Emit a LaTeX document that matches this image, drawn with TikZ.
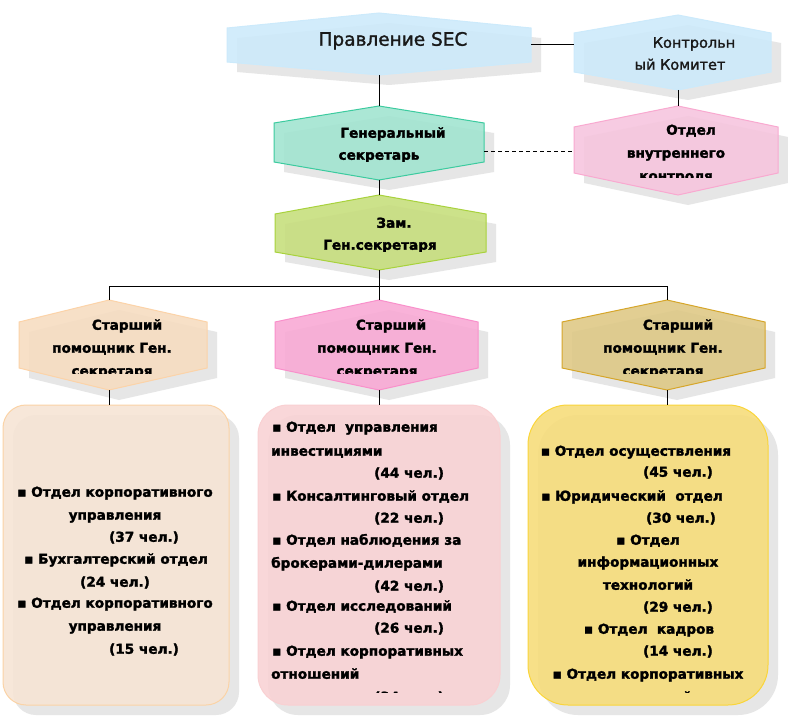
\documentclass[tikz,border=0pt]{standalone}
\usepackage{fontspec}
\setmainfont{DejaVu Sans}[BoldFeatures={FakeBold=2}]
\newfontfamily\semib[FakeBold=1.5]{DejaVu Sans}
\usetikzlibrary{calc}
\definecolor{shgray}{HTML}{E6E6E6}
\definecolor{blueF}{HTML}{CCEAFB}
\definecolor{genF}{HTML}{A0E4D0}
\definecolor{genD}{HTML}{3CCB9F}
\definecolor{otdF}{HTML}{F6C4DE}
\definecolor{otdD}{HTML}{F9A9D0}
\definecolor{zamF}{HTML}{C6DE7A}
\definecolor{zamD}{HTML}{A8D23C}
\definecolor{s1F}{HTML}{F6DCC0}
\definecolor{s1D}{HTML}{FCD3A8}
\definecolor{s2F}{HTML}{F9A8D4}
\definecolor{s2D}{HTML}{F990CB}
\definecolor{s3F}{HTML}{DEC884}
\definecolor{s3D}{HTML}{D6A62A}
\definecolor{b1F}{HTML}{F6E4D4}
\definecolor{b1D}{HTML}{FBD3A6}
\definecolor{b2F}{HTML}{F9D2D4}
\definecolor{b2D}{HTML}{F9D0D2}
\definecolor{b3F}{HTML}{F7DC78}
\definecolor{b3D}{HTML}{FAD53A}
\newcommand{\hexa}[9]{%
  \begin{scope}[shift={(10,10)}]
    \fill[shd] (#3,#7) -- (#5,#6) -- (#4,#7) -- (#4,#8) -- (#5,#9) -- (#3,#8) -- cycle;
  \end{scope}
  \filldraw[#2] (#3,#7) -- (#5,#6) -- (#4,#7) -- (#4,#8) -- (#5,#9) -- (#3,#8) -- cycle;
  \coordinate (#1-t) at (#5,#6);
  \coordinate (#1-b) at (#5,#9);
}
\newcommand{\rbox}[7]{%
  \fill[shd,rounded corners=#7] ($(#3,#5)+(10,10)$) rectangle ($(#4,#6)+(10,10)$);
  \filldraw[#2,rounded corners=#7] (#3,#5) rectangle (#4,#6);
}
\begin{document}
\begin{tikzpicture}[x=1pt,y=-1pt,
  shd/.style={fill=shgray},
  conn/.style={draw=black,line width=1pt},
  hexs/.style={line width=1pt,fill opacity=0.88},
  btxt/.style={font=\bfseries\fontsize{13.6}{16}\selectfont,inner sep=0pt,text=black},
  rtxt/.style={font=\semib\fontsize{14.5}{17}\selectfont,inner sep=0pt,text=black!90},
  big/.style={font=\semib\fontsize{18.5}{21}\selectfont,inner sep=0pt,text=black!90}]
\useasboundingbox (0,0) rectangle (788,717);
\fill[white] (0,0) rectangle (788,717);

% hexagons
\hexa{prav}{hexs,fill=blueF,draw=blueF}{227}{531}{379}{13}{28}{62}{75}
\hexa{kont}{hexs,fill=blueF,draw=blueF}{574}{771}{678}{15}{33}{72}{90}
\hexa{gen}{hexs,fill=genF,draw=genD}{274}{484}{379}{106}{123}{162}{180}
\hexa{otd}{hexs,fill=otdF,draw=otdD}{574}{778}{678}{106}{127}{173}{195}
\hexa{zam}{hexs,fill=zamF,draw=zamD}{275}{486}{379}{195}{214}{252}{270}
\hexa{sa}{hexs,fill=s1F,draw=s1D}{19}{207}{109}{300}{322}{368}{390}
\hexa{sb}{hexs,fill=s2F,draw=s2D}{275}{478}{379}{300}{322}{368}{390}
\hexa{sc}{hexs,fill=s3F,draw=s3D}{562}{765}{667}{300}{322}{368}{390}

% boxes
\rbox{ba}{hexs,fill=b1F,draw=b1D}{3}{229}{405}{705}{23}
\rbox{bb}{hexs,fill=b2F,draw=b2D}{258}{500}{405}{705}{30}
\rbox{bc}{hexs,fill=b3F,draw=b3D}{528}{768}{405}{705}{40}
\coordinate (ba-t) at (109,405);
\coordinate (bb-t) at (379,405);
\coordinate (bc-t) at (667,405);

% connectors
\coordinate (prav-r) at (531,45);
\coordinate (kont-l) at (574,45);
\coordinate (gen-r) at (484,151);
\coordinate (otd-l) at (574,151);
\coordinate (bus) at (379,286);
\draw[conn] (prav-r) -- (kont-l);
\draw[conn] (prav-b) -- (gen-t);
\draw[conn] (kont-b) -- (otd-t);
\draw[conn,dashed,dash pattern=on 4pt off 3pt] (gen-r) -- (otd-l);
\draw[conn] (gen-b) -- (zam-t);
\draw[conn] (zam-b) -- (bus);
\draw[conn] (sa-t) -- (sa-t |- bus) -- (sc-t |- bus) -- (sc-t);
\draw[conn] (bus) -- (sb-t);
\draw[conn] (sa-b) -- (ba-t);
\draw[conn] (sb-b) -- (bb-t);
\draw[conn] (sc-b) -- (bc-t);

% hexagon texts
\node[big,anchor=mid] (tprav) at (393,43) {Правление SEC};
\node[rtxt,anchor=mid] (tk1) at (694,45) {Контрольн};
\node[rtxt,anchor=mid] (tk2) at (680,67) {ый Комитет};
\node[btxt,anchor=mid] (tg1) at (393,135) {Генеральный};
\begin{scope}
  \clip (274,140) rectangle (484,161);
  \node[btxt,anchor=mid] (tg2) at (379,157) {секретарь};
\end{scope}
\node[btxt,anchor=mid] (to1) at (691,132) {Отдел};
\node[btxt,anchor=mid] (to2) at (676,155) {внутреннего};
\begin{scope}
  \clip (574,160) rectangle (778,177);
  \node[btxt,anchor=mid] (to3) at (676,178) {контроля};
\end{scope}
\node[btxt,anchor=mid] (tz1) at (394,225) {Зам.};
\begin{scope}
  \clip (275,232) rectangle (486,251);
  \node[btxt,anchor=mid] (tz2) at (380,247) {Ген.секретаря};
\end{scope}
\foreach \cx/\cy/\px [count=\i] in {109/127/112, 379/391/377, 667/678/663}{
  \node[btxt,anchor=mid] (ts\i a) at (\cy,327) {Старший};
  \node[btxt,anchor=mid] (ts\i b) at (\px,350) {помощник Ген.};
  \begin{scope}
    \clip (\px-90,358) rectangle (\px+90,373.5);
    \node[btxt,anchor=mid] (ts\i c) at (\px,373) {секретаря};
  \end{scope}
}

% left box
\foreach \xx/\yy/\tx [count=\i] in {
  115/494/{▪ Отдел корпоративного},
  115/517/{управления},
  144/539/{(37 чел.)},
  116/561/{▪ Бухгалтерский отдел},
  115/584/{(24 чел.)},
  115/605/{▪ Отдел корпоративного},
  115/628/{управления},
  144/651/{(15 чел.)}}{
  \node[btxt,anchor=mid] (la\i) at (\xx,\yy) {\tx};
}
% middle box
\foreach \xx/\yy/\tx [count=\i] in {
  272/429/{▪ Отдел\ \ управления},
  271/453/{инвестициями},
  374/475/{(44 чел.)},
  272/498/{▪ Консалтинговый отдел},
  374/520/{(22 чел.)},
  272/542/{▪ Отдел наблюдения за},
  271/565/{брокерами-дилерами},
  374/588/{(42 чел.)},
  272/608/{▪ Отдел исследований},
  374/630/{(26 чел.)},
  272/653/{▪ Отдел корпоративных},
  271/676/{отношений}}{
  \node[btxt,anchor=mid west] (lb\i) at (\xx,\yy) {\tx};
}
\begin{scope}
  \clip (258,685) rectangle (500,692);
  \node[btxt,anchor=mid west] (lb13) at (374,699) {(34 чел.)};
\end{scope}
% right box
\foreach \xx/\yy/\tx [count=\i] in {
  636/453/{▪ Отдел осуществления},
  678/474/{(45 чел.)},
  632/498/{▪ Юридический\ \ отдел},
  681/520/{(30 чел.)},
  648/542/{▪ Отдел},
  648/564/{информационных},
  648/587/{технологий},
  678/609/{(29 чел.)},
  649/631/{▪ Отдел\ \ кадров},
  678/653/{(14 чел.)},
  648/676/{▪ Отдел корпоративных}}{
  \node[btxt,anchor=mid] (lc\i) at (\xx,\yy) {\tx};
}
\begin{scope}
  \clip (528,685) rectangle (768,692);
  \node[btxt,anchor=mid] (lc12) at (648,699) {отношений};
\end{scope}
\end{tikzpicture}
\end{document}
